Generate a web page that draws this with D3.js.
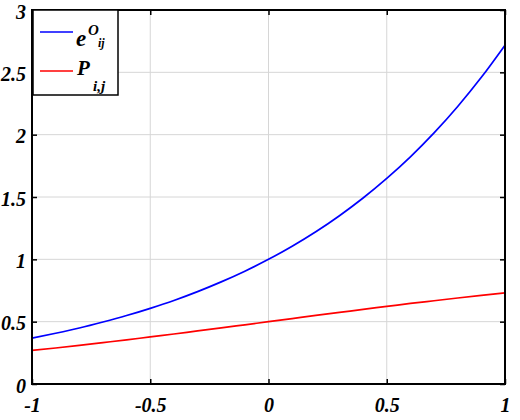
<!DOCTYPE html>
<html><head><meta charset="utf-8">
<script src="https://cdn.jsdelivr.net/npm/d3@7"></script>
<style>body{margin:0;background:#fff}svg{display:block}</style>
</head><body>
<svg id="c" width="520" height="420"></svg>
<script>
const xValues = [-1,-0.9,-0.8,-0.7,-0.6,-0.5,-0.4,-0.3,-0.2,-0.1,0,0.1,0.2,0.3,0.4,0.5,0.6,0.7,0.8,0.9,1];
const expValues = [0.368,0.407,0.449,0.497,0.549,0.607,0.670,0.741,0.819,0.905,1.0,1.105,1.221,1.350,1.492,1.649,1.822,2.014,2.226,2.460,2.718];
const pValues = [0.269,0.289,0.310,0.332,0.354,0.378,0.401,0.426,0.450,0.475,0.5,0.525,0.550,0.574,0.599,0.622,0.646,0.668,0.690,0.711,0.731];
const xTicks = [-1,-0.5,0,0.5,1];
const xTickLabels = ["-1","-0.5","0","0.5","1"];
const yTicks = [0,0.5,1,1.5,2,2.5,3];
const yTickLabels = ["0","0.5","1","1.5","2","2.5","3"];

const L=32,R=505,T=10,B=384;
const svg=d3.select("#c");
const x=d3.scaleLinear().domain([-1,1]).range([L,R]);
const y=d3.scaleLinear().domain([0,3]).range([B,T]);
const font='"Liberation Serif","Times New Roman",serif';

// grid
svg.append("g").selectAll("line").data(xTicks).join("line")
 .attr("x1",d=>x(d)).attr("x2",d=>x(d)).attr("y1",T).attr("y2",B)
 .attr("stroke","#d6d6d6").attr("stroke-width",1);
svg.append("g").selectAll("line").data(yTicks).join("line")
 .attr("y1",d=>y(d)).attr("y2",d=>y(d)).attr("x1",L).attr("x2",R)
 .attr("stroke","#d6d6d6").attr("stroke-width",1);

// axes (ticks inward)
const ax=g=>g.call(s=>s.select(".domain").remove()).call(s=>s.selectAll("line").attr("stroke","#000").attr("stroke-width",1.5));
svg.append("g").attr("transform",`translate(0,${B})`).call(d3.axisBottom(x).tickValues(xTicks).tickSize(-5).tickFormat((d,i)=>xTickLabels[i]).tickPadding(12)).call(ax)
 .selectAll("text").attr("font-family",font).attr("font-weight","bold").attr("font-style","italic").attr("font-size",20).attr("fill","#000").attr("dy","0.8em");
svg.append("g").attr("transform",`translate(0,${T})`).call(d3.axisTop(x).tickValues(xTicks).tickSize(-5).tickFormat("")).call(ax);
svg.append("g").attr("transform",`translate(${L},0)`).call(d3.axisLeft(y).tickValues(yTicks).tickSize(-5).tickFormat((d,i)=>yTickLabels[i]).tickPadding(6)).call(ax)
 .selectAll("text").attr("font-family",font).attr("font-weight","bold").attr("font-style","italic").attr("font-size",20).attr("fill","#000").attr("dy","0.4em");
svg.append("g").attr("transform",`translate(${R},0)`).call(d3.axisRight(y).tickValues(yTicks).tickSize(-5).tickFormat("")).call(ax);

// lines
const line=d3.line().x((d,i)=>x(xValues[i])).y(d=>y(d)).curve(d3.curveMonotoneX);
svg.append("path").datum(expValues).attr("d",line).attr("fill","none").attr("stroke","#0000ff").attr("stroke-width",1.7);
svg.append("path").datum(pValues).attr("d",line).attr("fill","none").attr("stroke","#ff0000").attr("stroke-width",1.7);

// box
svg.append("rect").attr("x",L).attr("y",T).attr("width",R-L).attr("height",B-T).attr("fill","none").attr("stroke","#000").attr("stroke-width",2);

// legend
const lg=svg.append("g");
lg.append("rect").attr("x",33).attr("y",10).attr("width",85).attr("height",85).attr("fill","#fff").attr("stroke","#000").attr("stroke-width",1.5);
lg.append("line").attr("x1",40).attr("x2",73).attr("y1",32).attr("y2",32).attr("stroke","#0000ff").attr("stroke-width",1.6);
lg.append("line").attr("x1",40).attr("x2",73).attr("y1",71).attr("y2",71).attr("stroke","#ff0000").attr("stroke-width",1.6);
const t1=lg.append("text").attr("font-family",font).attr("font-weight","bold").attr("font-style","italic").attr("fill","#000");
t1.append("tspan").attr("x",76).attr("y",46).attr("font-size",23).text("e");
t1.append("tspan").attr("x",88).attr("y",35).attr("font-size",15).text("O");
t1.append("tspan").attr("x",98).attr("y",47).attr("font-size",12).text("ij");
const t2=lg.append("text").attr("font-family",font).attr("font-weight","bold").attr("font-style","italic").attr("fill","#000");
t2.append("tspan").attr("x",77).attr("y",75).attr("font-size",21).text("P");
t2.append("tspan").attr("x",93).attr("y",91).attr("font-size",15).text("i,j");
</script>
</body></html>
